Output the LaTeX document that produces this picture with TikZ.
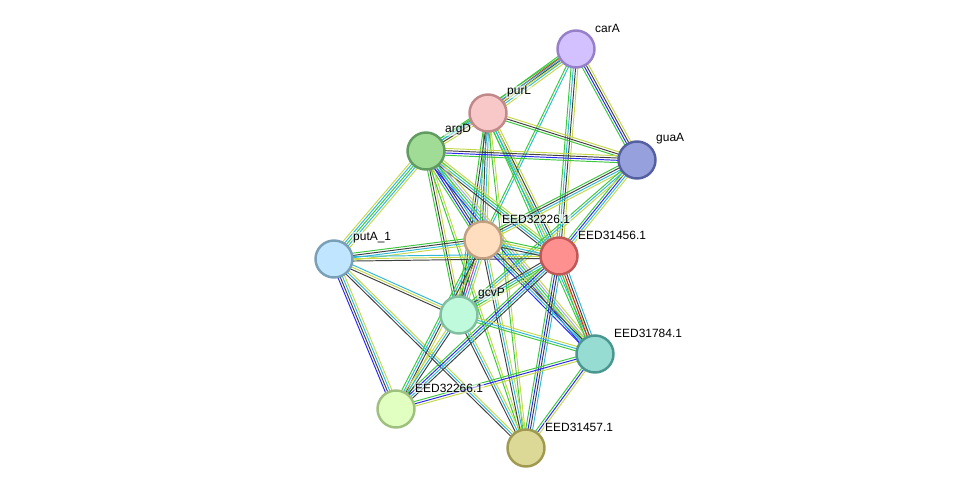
\documentclass[tikz,border=0pt]{standalone}
\usepackage{fontspec}
\setsansfont{Liberation Sans}
\usepackage{tikz}
\usetikzlibrary{calc,backgrounds}

% evidence channel colours
\definecolor{cG}{HTML}{3CC83C}
\definecolor{cR}{HTML}{E82020}
\definecolor{cB}{HTML}{2828F0}
\definecolor{cK}{HTML}{404040}
\definecolor{cM}{HTML}{C040C0}
\definecolor{cC}{HTML}{30B8D8}
\definecolor{cY}{HTML}{C4D84A}
\definecolor{cL}{HTML}{A8A8F0}

% one edge = several thin parallel lines, one per colour
\newcommand\linkedge[3]{%
  \foreach \col [count=\n] in {#3} {\xdef\nlines{\n}}%
  \foreach \col [count=\i] in {#3} {%
    \pgfmathsetmacro\off{(\i-(\nlines+1)/2)*1.3}%
    \draw[edgeline, draw=\col] ($(#1.center)!\off pt!90:(#2.center)$) -- ($(#2.center)!\off pt!-90:(#1.center)$);
  }%
}

\begin{document}
\begin{tikzpicture}[
    x=0.02cm, y=-0.02cm,
    prot/.style={circle, line width=1.4pt, minimum size=0.74cm, inner sep=0pt},
    lbl/.style={anchor=west, font=\sffamily\fontsize{6.8}{8}\selectfont, inner sep=0.5pt,
                fill=white, fill opacity=0.55, text opacity=1},
    edgeline/.style={line width=0.55pt}
]
\useasboundingbox (0,0) rectangle (975,494);

% ================= PROTEINS =================
\node[prot, fill={rgb,255:red,210;green,192;blue,255}, draw={rgb,255:red,150;green,128;blue,200}] (carA) at (576,49) {};
\node[prot, fill={rgb,255:red,248;green,200;blue,200}, draw={rgb,255:red,192;green,136;blue,136}] (purL) at (488,113) {};
\node[prot, fill={rgb,255:red,160;green,220;blue,150}, draw={rgb,255:red,96;green,156;blue,96}] (argD) at (426,151) {};
\node[prot, fill={rgb,255:red,150;green,160;blue,220}, draw={rgb,255:red,85;green,96;blue,160}] (guaA) at (637,160) {};
\node[prot, fill={rgb,255:red,255;green,222;blue,192}, draw={rgb,255:red,192;green,160;blue,128}] (eed32226) at (483,240) {};
\node[prot, fill={rgb,255:red,255;green,144;blue,144}, draw={rgb,255:red,192;green,88;blue,88}] (eed31456) at (559,256) {};
\node[prot, fill={rgb,255:red,192;green,230;blue,255}, draw={rgb,255:red,122;green,160;blue,184}] (putA) at (334,259) {};
\node[prot, fill={rgb,255:red,192;green,250;blue,220}, draw={rgb,255:red,128;green,192;blue,160}] (gcvP) at (459,315) {};
\node[prot, fill={rgb,255:red,150;green,220;blue,210}, draw={rgb,255:red,74;green,150;blue,144}] (eed31784) at (595,354) {};
\node[prot, fill={rgb,255:red,224;green,255;blue,192}, draw={rgb,255:red,160;green,192;blue,128}] (eed32266) at (396,409) {};
\node[prot, fill={rgb,255:red,220;green,216;blue,150}, draw={rgb,255:red,160;green,154;blue,80}] (eed31457) at (526,448) {};

% ================= LABELS =================
\node[lbl] (carA-l) at ([shift={(18,-21)}]carA.center) {carA};
\node[lbl] (purL-l) at ([shift={(18,-21)}]purL.center) {purL};
\node[lbl] (argD-l) at ([shift={(18,-21)}]argD.center) {argD};
\node[lbl] (guaA-l) at ([shift={(18,-21)}]guaA.center) {guaA};
\node[lbl] (eed32226-l) at ([shift={(18,-21)}]eed32226.center) {EED32226.1};
\node[lbl] (eed31456-l) at ([shift={(18,-21)}]eed31456.center) {EED31456.1};
\node[lbl] (putA-l) at ([shift={(18,-21)}]putA.center) {putA\_1};
\node[lbl] (gcvP-l) at ([shift={(18,-21)}]gcvP.center) {gcvP};
\node[lbl] (eed31784-l) at ([shift={(18,-21)}]eed31784.center) {EED31784.1};
\node[lbl] (eed32266-l) at ([shift={(18,-21)}]eed32266.center) {EED32266.1};
\node[lbl] (eed31457-l) at ([shift={(18,-21)}]eed31457.center) {EED31457.1};

% ================= EDGES =================
\begin{scope}[on background layer]
\linkedge{carA}{purL}{cG,cR,cK,cC,cY}
\linkedge{carA}{argD}{cG,cC,cY}
\linkedge{carA}{guaA}{cG,cB,cK,cY}
\linkedge{carA}{eed31456}{cG,cC,cK,cY}
\linkedge{carA}{eed32226}{cG,cC}
\linkedge{purL}{argD}{cG,cC,cK,cY}
\linkedge{purL}{guaA}{cG,cK,cY}
\linkedge{purL}{eed32226}{cG,cK,cC,cY}
\linkedge{purL}{eed31456}{cG,cC,cK,cY}
\linkedge{purL}{gcvP}{cG,cK,cC}
\linkedge{purL}{eed31784}{cG,cC,cY}
\linkedge{purL}{eed31457}{cG,cY}
\linkedge{argD}{guaA}{cG,cB,cK,cY}
\linkedge{argD}{eed32226}{cG,cB,cK,cC,cY}
\linkedge{argD}{eed31456}{cK,cC,cG,cY}
\linkedge{argD}{putA}{cY,cC,cG,cC,cY}
\linkedge{argD}{gcvP}{cG,cK,cY}
\linkedge{argD}{eed31784}{cB,cC,cG,cL,cY}
\linkedge{argD}{eed31457}{cG,cY}
\linkedge{guaA}{eed32226}{cG,cK,cC,cY}
\linkedge{guaA}{eed31456}{cG,cB,cC,cY}
\linkedge{guaA}{gcvP}{cG,cC,cY}
\linkedge{putA}{eed32226}{cY,cC,cK,cG}
\linkedge{putA}{eed31456}{cK,cY,cC}
\linkedge{putA}{gcvP}{cK,cY,cC}
\linkedge{putA}{eed32266}{cB,cK,cC,cY}
\linkedge{putA}{eed31457}{cK,cC,cY}
\linkedge{eed32226}{eed31456}{cK,cC,cY,cG}
\linkedge{eed32226}{gcvP}{cG,cK,cM,cC,cY}
\linkedge{eed32226}{eed31784}{cB,cC,cK,cY}
\linkedge{eed32226}{eed32266}{cG,cC,cK,cY}
\linkedge{eed32226}{eed31457}{cK,cC,cY}
\linkedge{eed31456}{gcvP}{cK,cC,cG,cY}
\linkedge{eed31456}{eed31784}{cG,cR,cK,cC}
\linkedge{eed31456}{eed32266}{cG,cB,cC,cK}
\linkedge{eed31456}{eed31457}{cG,cB,cK,cC}
\linkedge{gcvP}{eed31784}{cG,cC,cY}
\linkedge{gcvP}{eed32266}{cY,cC,cK}
\linkedge{gcvP}{eed31457}{cK,cC,cY}
\linkedge{eed31784}{eed32266}{cG,cB,cY}
\linkedge{eed31784}{eed31457}{cG,cB,cY}
\end{scope}

\end{tikzpicture}
\end{document}
